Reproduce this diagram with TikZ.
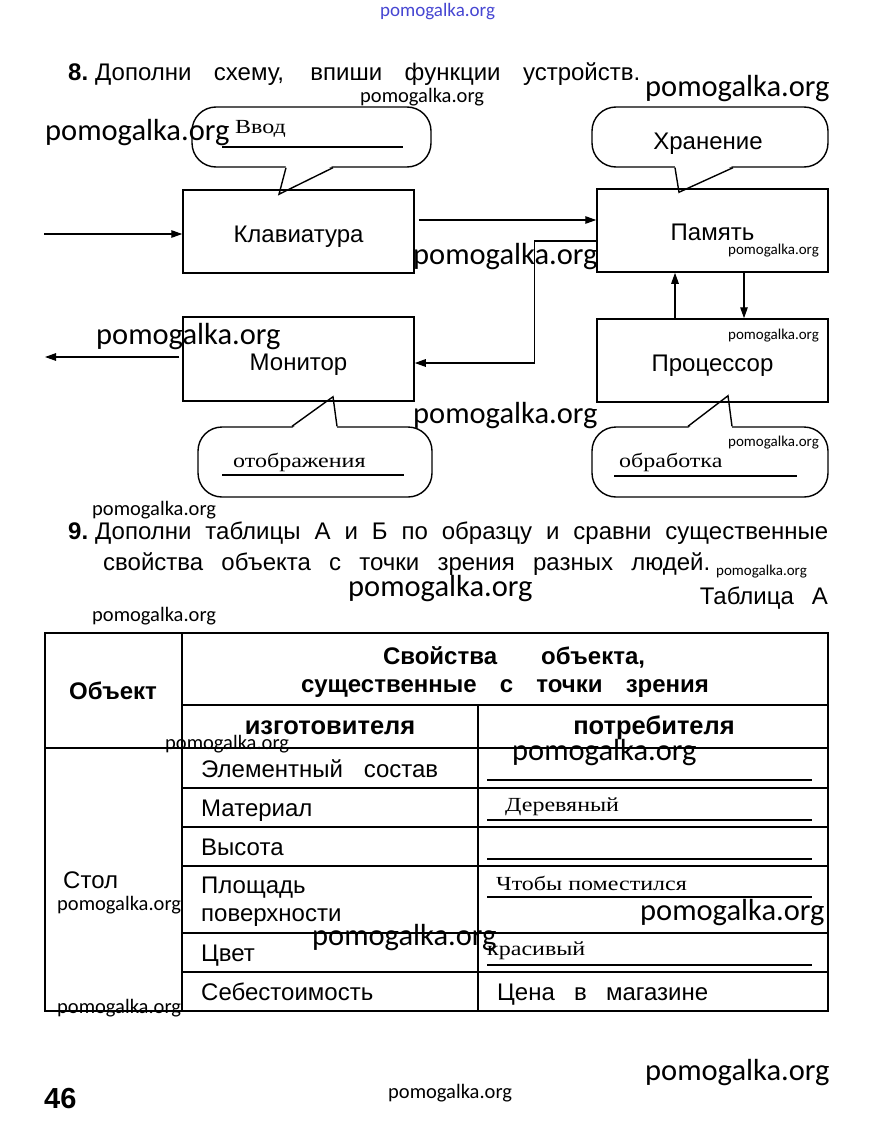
\documentclass[tikz,border=0pt]{standalone}
\usepackage{fontspec}
\setmainfont{Liberation Sans}
\newfontfamily\bkfont{Liberation Sans}
\newfontfamily\hwfont[FakeStretch=1.2]{Liberation Serif}
\newfontfamily\wmfont{Carlito}
\usetikzlibrary{arrows.meta}
\pgfdeclarelayer{bg}
\pgfsetlayers{bg,main}
\definecolor{wmblue}{RGB}{70,70,210}
\newcommand\bodyfont{\bkfont\fontsize{24}{28}\selectfont}
\newcommand\boldbody{\bkfont\bfseries\fontsize{24}{28}\selectfont}
\newcommand\handfont{\hwfont\fontsize{20}{24}\selectfont}
\newcommand\lowtext[2]{\raisebox{-#1}[0pt][0pt]{#2}}
\tikzset{
  box/.style={draw,line width=1.5pt,minimum width=231pt,minimum height=83pt,inner sep=0pt,font=\bodyfont},
  bubble/.style={draw,line width=1.4pt,rounded corners=24pt,minimum width=236pt,minimum height=60pt,inner sep=0pt},
  tailline/.style={line width=1.4pt,line join=miter},
  arr/.style={line width=1.3pt,-{Triangle[length=11pt,width=7.5pt]}},
  txt/.style={anchor=base west,inner sep=0pt,font=\bodyfont},
  ctxt/.style={anchor=base,inner sep=0pt,font=\boldbody},
  hand/.style={anchor=base west,inner sep=0pt,font=\handfont},
  uline/.style={line width=1.3pt},
  grid/.style={line width=1.5pt},
  wmbig/.style={anchor=west,inner sep=0pt,font=\wmfont\fontsize{30.5}{34}\selectfont},
  wmsmall/.style={anchor=west,inner sep=0pt,font=\wmfont\fontsize{20.5}{24}\selectfont},
  wmtiny/.style={anchor=west,inner sep=0pt,font=\wmfont\fontsize{15}{18}\selectfont},
}
\begin{document}
\begin{tikzpicture}[x=1pt,y=-1pt]
\useasboundingbox (0,0) rectangle (871,1148);
\begin{pgfonlayer}{bg}
\fill[white] (0,0) rectangle (871,1148);
\end{pgfonlayer}

% ---------- Task 8 ----------
\node[txt] (t8) at (68,81) {\makebox[572pt][s]{\textbf{8.}\hspace{7pt}Дополни схему, впиши функции устройств.}};

\node[box] (kbd) at (298.5,231.5) {\lowtext{10.5pt}{Клавиатура}};
\node[box] (mem) at (712.5,230.5) {\lowtext{10pt}{Память}};
\node[box,minimum height=84pt] (mon) at (298.5,359) {\lowtext{11pt}{Монитор}};
\node[box] (cpu) at (712.5,360.5) {\lowtext{10.5pt}{Процессор}};

\begin{pgfonlayer}{bg}
  \node[bubble,minimum width=239pt] (b1) at (311.5,137) {};
  \fill[white] ([xshift=-25.5pt,yshift=2pt]b1.south) -- ([xshift=-19.5pt,yshift=-5pt]kbd.north) -- ([xshift=21.5pt,yshift=2pt]b1.south) -- cycle;
  \node[bubble] (b2) at (710,137) {};
  \fill[white] ([xshift=-35pt,yshift=2pt]b2.south) -- ([xshift=-33.5pt,yshift=-4pt]mem.north) -- ([xshift=23pt,yshift=2pt]b2.south) -- cycle;
  \node[bubble,minimum width=234pt,minimum height=70pt] (b3) at (315,462) {};
  \fill[white] ([xshift=-23pt,yshift=-2pt]b3.north) -- ([xshift=34.5pt,yshift=5pt]mon.south) -- ([xshift=22pt,yshift=-2pt]b3.north) -- cycle;
  \node[bubble,minimum height=70pt] (b4) at (710,462) {};
  \fill[white] ([xshift=-22pt,yshift=-2pt]b4.north) -- ([xshift=15.5pt,yshift=7pt]cpu.south) -- ([xshift=22pt,yshift=-2pt]b4.north) -- cycle;
\end{pgfonlayer}

\draw[tailline] ([xshift=-25.5pt]b1.south) -- ([xshift=-19.5pt,yshift=-5pt]kbd.north) -- ([xshift=21.5pt]b1.south);
\draw[tailline] ([xshift=-35pt]b2.south) -- ([xshift=-33.5pt,yshift=-4pt]mem.north) -- ([xshift=23pt]b2.south);
\draw[tailline] ([xshift=-23pt]b3.north) -- ([xshift=34.5pt,yshift=5pt]mon.south) -- ([xshift=22pt]b3.north);
\draw[tailline] ([xshift=-22pt]b4.north) -- ([xshift=15.5pt,yshift=7pt]cpu.south) -- ([xshift=22pt]b4.north);

% bubble contents
\node[hand] (vvod) at (235,133) {Ввод};
\draw[uline] (222,147) -- (403,147);
\node[anchor=center,inner sep=0pt,font=\bodyfont] (hran) at (708,144) {Хранение};
\node[hand] (otobr) at (233,467) {отображения};
\draw[uline] (222,475) -- (404,475);
\node[hand] (obrab) at (619,467) {обработка};
\draw[uline] (614,476) -- (797,476);

% connectors
\coordinate (inL) at (44,234);
\coordinate (outL) at (45,357);
\draw[arr] (inL) -- (inL -| kbd.west);
\draw[arr] ([xshift=4pt,yshift=11.5pt]kbd.east) -- ([yshift=10.5pt]mem.west);
\draw[arr] ([yshift=-10.5pt]mem.west) -- ++(-62,0) |- ([yshift=-4pt]mon.east);
\draw[arr] ([xshift=-3pt,yshift=2pt]mon.west) -- (outL);
\draw[arr] ([xshift=-37.5pt]cpu.north) -- ([xshift=-37.5pt]mem.south);
\draw[arr] ([xshift=31.5pt]mem.south) -- ([xshift=31.5pt]cpu.north);

% ---------- Task 9 ----------
\node[txt] (t9a) at (68,539) {\makebox[760pt][s]{\textbf{9.}\hspace{7pt}Дополни таблицы А и Б по образцу и сравни существенные}};
\node[txt] (t9b) at (103,570) {\makebox[607pt][s]{свойства объекта с точки зрения разных людей.}};
\node[txt,anchor=base east] (tabA) at (828,604) {\makebox[128pt][s]{Таблица А}};

% table grid
\draw[grid] (45,633) rectangle (828,1011);
\draw[grid] (182,633) -- (182,1011);
\draw[grid] (182,705) -- (828,705);
\draw[grid] (478,705) -- (478,1011);
\draw[grid] (45,748) -- (828,748);
\foreach \yy in {788,827,866,933,972} \draw[grid] (182,\yy) -- (828,\yy);

% header
\node[ctxt] (hobj) at (113,699) {Объект};
\node[ctxt] (hprop1) at (514,664) {\makebox[262pt][s]{Свойства объекта,}};
\node[ctxt] (hprop2) at (505,692) {\makebox[408pt][s]{существенные с точки зрения}};
\node[ctxt,font=\bkfont\bfseries\fontsize{25.5}{30}\selectfont] (hmak) at (330,734) {изготовителя};
\node[ctxt,font=\bkfont\bfseries\fontsize{25.5}{30}\selectfont] (hcon) at (654,734) {потребителя};

% rows
\node[txt] (r1) at (201,777) {\makebox[237pt][s]{Элементный состав}};
\node[txt] (r2) at (201,816) {Материал};
\node[txt] (r3) at (201,855) {Высота};
\node[txt] (r4a) at (201,893) {Площадь};
\node[txt] (r4b) at (201,921) {поверхности};
\node[txt] (r5) at (201,961) {Цвет};
\node[txt] (r6) at (201,1000) {Себестоимость};
\node[txt] (c6) at (497,1000) {\makebox[211pt][s]{Цена в магазине}};
\node[txt] (stol) at (63,888) {Стол};

\foreach \yy in {780,820,859,897,965} \draw[uline] (487,\yy) -- (812,\yy);
\node[hand] (c2) at (505,811) {Деревяный};
\node[hand] (c4) at (496,890) {Чтобы поместился};
\node[hand] (c5) at (487,955) {красивый};

% page number
\node[anchor=base west,inner sep=0pt,font=\bkfont\bfseries\fontsize{29}{33}\selectfont] (pg) at (44,1108) {46};

% ---------- watermarks ----------
\node[anchor=west,inner sep=0pt,font=\wmfont\fontsize{19}{22}\selectfont,text=wmblue] (w1) at (380,12) {pomogalka.org};
\node[wmsmall] (w2) at (360,97) {pomogalka.org};
\node[wmbig] (w3) at (645,89) {pomogalka.org};
\node[wmbig] (w4) at (45,133) {pomogalka.org};
\node[wmbig] (w5) at (413,257) {pomogalka.org};
\node[wmtiny] (w6) at (728,251) {pomogalka.org};
\node[wmbig] (w7) at (96,337) {pomogalka.org};
\node[wmtiny] (w8) at (728,336) {pomogalka.org};
\node[wmbig] (w9) at (413,416) {pomogalka.org};
\node[wmtiny] (w10) at (728,443) {pomogalka.org};
\node[wmsmall] (w11) at (92,510) {pomogalka.org};
\node[wmtiny] (w12) at (716,572) {pomogalka.org};
\node[wmbig] (w13) at (348,589) {pomogalka.org};
\node[wmsmall] (w14) at (92,616) {pomogalka.org};
\node[wmsmall] (w15) at (165,744) {pomogalka.org};
\node[wmbig] (w16) at (512,753) {pomogalka.org};
\node[wmsmall] (w17) at (57,905) {pomogalka.org};
\node[wmbig] (w18) at (640,913) {pomogalka.org};
\node[wmbig] (w19) at (312,938) {pomogalka.org};
\node[wmsmall] (w20) at (57,1008) {pomogalka.org};
\node[wmbig] (w21) at (645,1073) {pomogalka.org};
\node[wmsmall] (w22) at (388,1093) {pomogalka.org};
\end{tikzpicture}
\end{document}
